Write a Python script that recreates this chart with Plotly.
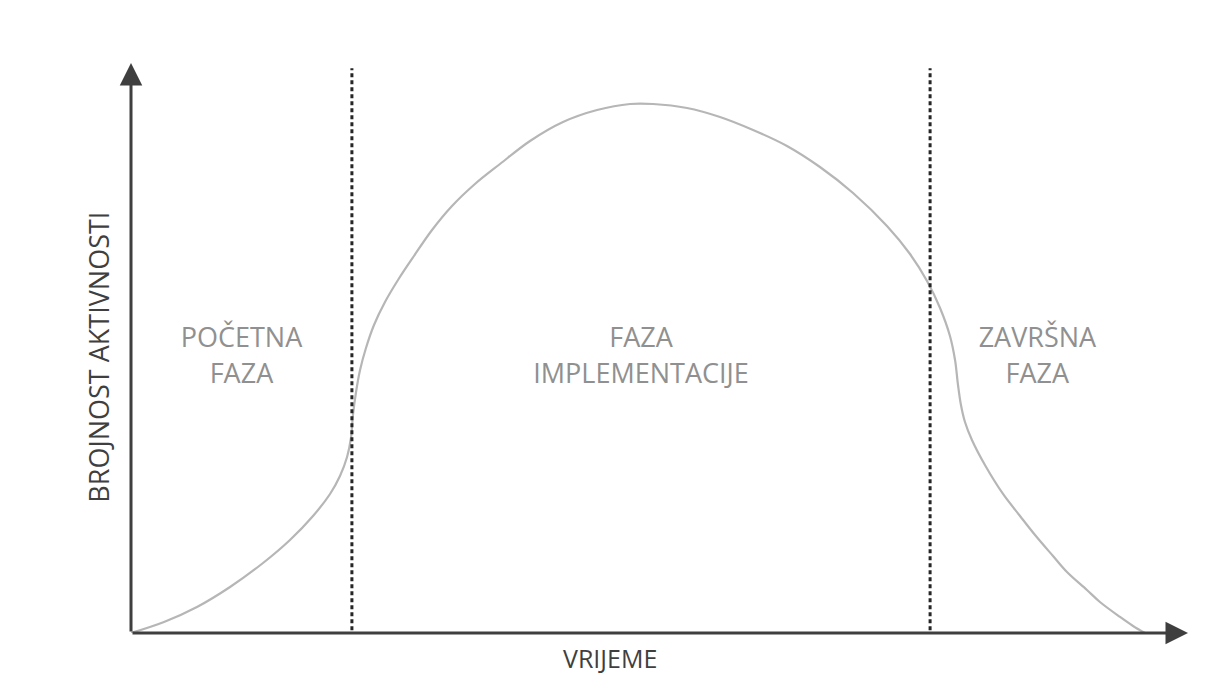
import plotly.graph_objects as go

# ---- data (time and activity in 0-100 units) ----
time_pts = [0.0, 3.12, 6.24, 9.37, 12.49, 15.04, 17.22, 18.83, 19.77, 20.44, 20.81, 21.00,
            21.29, 21.67, 22.23, 22.99, 24.03, 25.26, 26.77, 28.48, 30.37, 32.54, 34.91,
            37.75, 40.87, 44.09, 47.21, 49.39, 52.60, 55.72, 58.85, 62.06, 65.18, 68.31,
            71.52, 73.70, 75.31, 76.54, 77.48, 77.96, 78.24, 78.52, 78.90, 79.56, 80.79,
            82.50, 84.11, 85.53, 87.23, 88.55, 90.44, 91.67, 93.57, 94.80, 95.93]
activity_pts = [0.0, 1.93, 4.56, 8.07, 12.28, 16.32, 20.53, 24.39, 27.54, 30.88, 34.21, 38.25,
                42.28, 46.14, 50.00, 54.04, 58.07, 61.93, 66.14, 70.70, 74.91, 78.77, 82.28,
                86.32, 89.65, 91.75, 92.81, 92.81, 92.11, 90.53, 88.25, 85.44, 81.75, 77.19,
                71.40, 66.49, 61.75, 57.02, 52.11, 47.89, 43.51, 40.00, 37.02, 33.86, 29.47,
                24.39, 20.53, 17.19, 13.51, 10.70, 7.54, 5.44, 2.81, 1.23, 0.0]
phase_bounds = [0.0, 20.9, 75.6, 95.9]
phase_labels = ["POČETNA FAZA", "FAZA IMPLEMENTACIJE", "ZAVRŠNA FAZA"]
x_title = "VRIJEME"
y_title = "BROJNOST AKTIVNOSTI"

AXIS_COL = "#3f3f3f"
CURVE_COL = "#b6b6b6"
TEXT_COL = "#909090"
FONT = "Open Sans"

fig = go.Figure()

# curve
fig.add_trace(go.Scatter(x=time_pts, y=activity_pts, mode="lines",
                         line=dict(color=CURVE_COL, width=2.2, shape="spline", smoothing=1.0),
                         hoverinfo="skip", showlegend=False))

# phase labels (two lines each)
mids = [(phase_bounds[i] + phase_bounds[i + 1]) / 2 for i in range(len(phase_labels))]
two_line = ["<br>".join(lbl.rsplit(" ", 1)) for lbl in phase_labels]
fig.add_trace(go.Scatter(x=mids, y=[48.2] * len(mids), mode="text", text=two_line,
                         textposition="middle center",
                         textfont=dict(family=FONT, size=27, color=TEXT_COL),
                         hoverinfo="skip", showlegend=False))

# dashed phase boundaries
for b in phase_bounds[1:-1]:
    fig.add_shape(type="line", xref="x", yref="y", x0=b, x1=b, y0=0.5, y1=99.1,
                  line=dict(color="#262626", width=3, dash="4px,3px"))

# axes with arrows
fig.add_annotation(x=100, y=0, ax=0, ay=0, xref="x", yref="y", axref="x", ayref="y",
                   text="", showarrow=True, arrowhead=2, arrowsize=1.5, arrowwidth=3,
                   arrowcolor=AXIS_COL)
fig.add_annotation(x=0, y=100, ax=0, ay=0, xref="x", yref="y", axref="x", ayref="y",
                   text="", showarrow=True, arrowhead=2, arrowsize=1.5, arrowwidth=3,
                   arrowcolor=AXIS_COL)

# axis titles
fig.add_annotation(x=0.4532, y=-0.043, xref="paper", yref="paper", text=x_title,
                   showarrow=False, borderpad=0,
                   font=dict(family=FONT, size=25, color=AXIS_COL),
                   xanchor="center", yanchor="middle")
fig.add_annotation(x=-0.0307, y=0.484, xref="paper", yref="paper", text=y_title,
                   showarrow=False, textangle=-90, borderpad=0,
                   font=dict(family=FONT, size=27, color=AXIS_COL),
                   xanchor="center", yanchor="middle")

fig.update_xaxes(range=[0, 100], visible=False, fixedrange=True)
fig.update_yaxes(range=[0, 100], visible=False, fixedrange=True)
fig.update_layout(width=1190, height=667,
                  margin=dict(l=123, r=10, t=55, b=42),
                  paper_bgcolor="#ffffff", plot_bgcolor="#ffffff",
                  showlegend=False)

fig.write_html("out.html")
